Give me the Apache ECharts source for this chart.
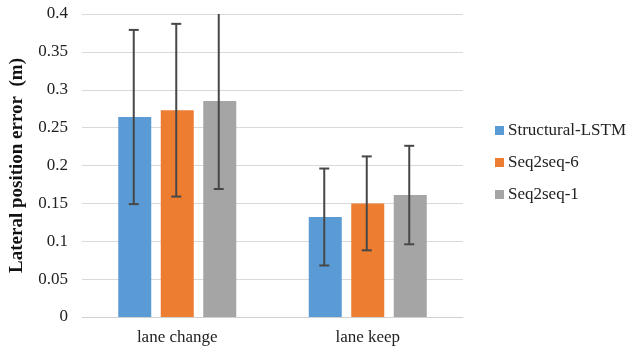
<!DOCTYPE html>
<html><head><meta charset="utf-8">
<script src="https://cdn.jsdelivr.net/npm/echarts@6/dist/echarts.min.js"></script>
<style>html,body{margin:0;padding:0;background:#fff}#c{width:629px;height:350px}</style>
</head><body><div id="c"></div>
<script>
var categories = ['lane change', 'lane keep'];
var seriesNames = ['Structural-LSTM', 'Seq2seq-6', 'Seq2seq-1'];
var structuralLSTM = [0.264, 0.132];
var seq2seq6 = [0.273, 0.150];
var seq2seq1 = [0.285, 0.161];
var structuralLSTMErr = [0.115, 0.064];
var seq2seq6Err = [0.114, 0.062];
var seq2seq1Err = [0.116, 0.065];
var yTicks = [0, 0.05, 0.1, 0.15, 0.2, 0.25, 0.3, 0.35, 0.4];
var colors = ['#5B9BD5', '#ED7D31', '#A5A5A5'];

var values = [structuralLSTM, seq2seq6, seq2seq1];
var errs = [structuralLSTMErr, seq2seq6Err, seq2seq1Err];
var yMax = yTicks[yTicks.length - 1];
var barWidth = 33, barGapPx = 9.5;
var font = '"Liberation Serif", "Times New Roman", serif';

var series = [];
values.forEach(function (v, i) {
  series.push({
    name: seriesNames[i], type: 'bar', data: v, barWidth: barWidth,
    barGap: (barGapPx / barWidth * 100) + '%',
    itemStyle: { color: colors[i] }, z: 2
  });
});
values.forEach(function (v, i) {
  var data = v.map(function (val, j) { return [j, val - errs[i][j], val + errs[i][j]]; });
  series.push({
    type: 'custom', name: seriesNames[i] + ' err', z: 5, silent: true,
    data: data,
    renderItem: function (params, api) {
      var x = api.coord([api.value(0), 0])[0];
      var offset = (i - 1) * (barWidth + barGapPx);
      x += offset - 1;
      var lo = api.value(1), hi = Math.min(api.value(2), yMax);
      var pLo = api.coord([api.value(0), lo])[1];
      var pHi = api.coord([api.value(0), hi])[1];
      var cap = 5;
      var st = { stroke: '#474747', lineWidth: 2 };
      var children = [
        { type: 'line', shape: { x1: x, y1: pLo, x2: x, y2: pHi }, style: st },
        { type: 'line', shape: { x1: x - cap, y1: pLo, x2: x + cap, y2: pLo }, style: st }
      ];
      if (api.value(2) < yMax) {
        children.push({ type: 'line', shape: { x1: x - cap, y1: pHi, x2: x + cap, y2: pHi }, style: st });
      }
      return { type: 'group', children: children };
    }
  });
});

var chart = echarts.init(document.getElementById('c'));
chart.setOption({
  animation: false,
  textStyle: { fontFamily: font },
  grid: { left: 81, right: 166, top: 14, bottom: 33 },
  legend: {
    data: seriesNames, orient: 'vertical', left: 490, top: 117,
    itemWidth: 9, itemHeight: 9, itemGap: 15, icon: 'rect',
    textStyle: { fontFamily: font, fontSize: 17, color: '#222', padding: [0, 0, 0, -1] }
  },
  xAxis: {
    type: 'category', data: categories,
    axisLine: { show: true, lineStyle: { color: '#d0d0d0' } },
    axisTick: { show: false },
    axisLabel: { fontFamily: font, fontSize: 17, color: '#222', margin: 12 }
  },
  yAxis: {
    type: 'value', min: 0, max: yMax, interval: 0.05,
    name: 'Lateral position error  (m)', nameLocation: 'middle', nameGap: 55,
    nameTextStyle: { fontFamily: font, fontSize: 19, fontWeight: 'bold', color: '#111' },
    axisLine: { show: false }, axisTick: { show: false },
    splitLine: { lineStyle: { color: '#d9d9d9' } },
    axisLabel: { fontFamily: font, fontSize: 17, color: '#222', margin: 14,
      formatter: function (v) { return String(+v.toFixed(2)); } }
  },
  series: series
});
</script></body></html>
